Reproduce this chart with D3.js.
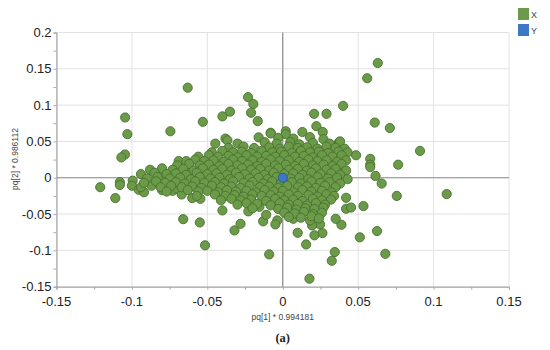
<!DOCTYPE html>
<html>
<head>
  <meta charset="utf-8">
  <style>
    body { margin: 0; background: #fff; }
    text { font-family: "Liberation Sans", Arial, sans-serif; }
  </style>
</head>
<body>
  <script src="https://cdnjs.cloudflare.com/ajax/libs/d3/7.8.5/d3.min.js"></script>
  <script>
    // tick values
    const xTicks = [-0.15, -0.1, -0.05, 0, 0.05, 0.1, 0.15];
    const yTicks = [-0.15, -0.1, -0.05, 0, 0.05, 0.1, 0.15, 0.2];

    // series X : scattered points
    const xOuter = [
      [-0.063, 0.124], [-0.1045, 0.083], [-0.053, 0.077], [-0.103, 0.060], [-0.0745, 0.064],
      [-0.1046, 0.032], [-0.107, 0.028], [-0.069, 0.023], [-0.081, 0.004], [-0.0995, -0.004],
      [-0.108, -0.006], [-0.121, -0.013], [-0.108, -0.010], [-0.111, -0.028], [-0.100, -0.011],
      [-0.0955, -0.0165], [-0.092, -0.020], [-0.094, -0.013], [-0.087, -0.011], [-0.080, -0.017],
      [-0.077, -0.011], [-0.073, -0.018], [-0.070, -0.015], [-0.067, -0.023], [-0.065, -0.0105],
      [-0.060, -0.028], [-0.0546, -0.029], [-0.066, -0.057], [-0.055, -0.0615], [-0.0515, -0.093],
      [-0.062, 0.008], [-0.023, 0.111], [-0.0195, 0.1015], [-0.021, 0.0895], [-0.0166, 0.078],
      [-0.035, 0.091], [-0.040, 0.0845], [-0.016, 0.0556], [-0.038, 0.054], [-0.0367, 0.0515],
      [-0.0447, 0.047], [-0.008, 0.062], [0.0208, 0.088], [0.029, 0.088], [0.040, 0.099],
      [0.0223, 0.071], [0.0265, 0.063], [0.0373, 0.049], [0.040, 0.0285], [0.002, 0.064],
      [0.063, 0.158], [0.056, 0.137], [0.061, 0.076], [0.071, 0.0685], [0.091, 0.037],
      [0.0486, 0.031], [0.058, 0.026], [0.058, 0.018], [0.0765, 0.018], [0.0615, 0.0025],
      [0.038, 0.050], [0.0398, 0.028], [0.038, 0.014], [0.058, 0.0147], [0.0656, -0.008],
      [0.0756, -0.025], [0.1087, -0.0225], [0.042, -0.0276], [0.042, -0.0427], [0.0453, -0.041],
      [0.0535, -0.039], [0.0389, -0.0647], [0.0625, -0.0734], [0.0511, -0.082], [0.068, -0.1047],
      [-0.040, -0.045], [-0.0228, -0.0463], [-0.032, -0.0725], [-0.028, -0.0634], [-0.013, -0.060],
      [-0.0036, -0.0587], [-0.0049, -0.0642], [-0.011, -0.051], [-0.0155, -0.040], [-0.009, -0.1055],
      [0.0099, -0.0758], [0.0155, -0.0918], [0.0177, -0.139], [0.0345, -0.1023], [0.0325, -0.1143],
      [0.0351, -0.0565], [0.0263, -0.0762], [0.021, -0.0793], [0.0247, -0.0642], [0.0194, -0.0656],
      [0.007, -0.0565], [0.0181, -0.0587]
    ];

    // series X : dense central cloud
    const xCore = [
      [-0.008, 0.061], [0.002, 0.060], [0.013, 0.063],
      [-0.003, 0.055], [0.007, 0.054], [0.018, 0.056], [0.027, 0.053],
      [-0.030, 0.047], [-0.012, 0.049], [-0.004, 0.047], [0.005, 0.049], [0.011, 0.046], [0.020, 0.048], [0.031, 0.047],
      [-0.036, 0.041], [-0.026, 0.043], [-0.019, 0.041], [-0.009, 0.042], [-0.002, 0.040], [0.004, 0.043], [0.010, 0.041],
      [0.016, 0.042], [0.023, 0.040], [0.029, 0.043], [0.035, 0.041], [0.041, 0.040],
      [-0.047, 0.035], [-0.040, 0.037], [-0.033, 0.035], [-0.027, 0.036], [-0.021, 0.034], [-0.014, 0.037], [-0.007, 0.035],
      [-0.001, 0.036], [0.006, 0.034], [0.012, 0.037], [0.018, 0.035], [0.024, 0.036], [0.030, 0.034], [0.037, 0.036], [0.043, 0.035],
      [-0.056, 0.029], [-0.049, 0.031], [-0.043, 0.029], [-0.036, 0.030], [-0.030, 0.028], [-0.024, 0.031], [-0.017, 0.029],
      [-0.011, 0.030], [-0.005, 0.029], [0.001, 0.031], [0.008, 0.029], [0.014, 0.030], [0.020, 0.028], [0.026, 0.031],
      [0.033, 0.029], [0.039, 0.031],
      [-0.064, 0.023], [-0.058, 0.025], [-0.052, 0.023], [-0.046, 0.024], [-0.039, 0.022], [-0.033, 0.025], [-0.027, 0.023],
      [-0.020, 0.024], [-0.014, 0.022], [-0.008, 0.025], [-0.002, 0.023], [0.004, 0.024], [0.011, 0.022], [0.017, 0.025],
      [0.023, 0.023], [0.029, 0.024], [0.036, 0.022], [0.042, 0.024],
      [-0.070, 0.017], [-0.062, 0.019], [-0.055, 0.017], [-0.049, 0.018], [-0.042, 0.016], [-0.036, 0.019], [-0.030, 0.017],
      [-0.023, 0.018], [-0.017, 0.016], [-0.011, 0.019], [-0.005, 0.017], [0.002, 0.018], [0.008, 0.016], [0.014, 0.019],
      [0.020, 0.017], [0.027, 0.018], [0.033, 0.016], [0.039, 0.019],
      [-0.088, 0.011], [-0.080, 0.013], [-0.073, 0.011], [-0.066, 0.012], [-0.059, 0.010], [-0.053, 0.013], [-0.046, 0.011],
      [-0.040, 0.012], [-0.034, 0.010], [-0.027, 0.013], [-0.021, 0.011], [-0.015, 0.012], [-0.009, 0.010], [-0.003, 0.013],
      [0.004, 0.011], [0.010, 0.012], [0.016, 0.010], [0.022, 0.013], [0.029, 0.011], [0.035, 0.012], [0.042, 0.010],
      [-0.094, 0.005], [-0.085, 0.007], [-0.077, 0.005], [-0.071, 0.006], [-0.064, 0.004], [-0.057, 0.007], [-0.050, 0.005],
      [-0.044, 0.006], [-0.037, 0.004], [-0.031, 0.007], [-0.025, 0.005], [-0.018, 0.006], [-0.012, 0.004], [-0.006, 0.007],
      [0.001, 0.005], [0.007, 0.006], [0.013, 0.004], [0.019, 0.007], [0.025, 0.005], [0.032, 0.006], [0.038, 0.004],
      [-0.090, -0.001], [-0.083, 0.001], [-0.075, -0.001], [-0.068, 0.000], [-0.061, -0.002], [-0.055, 0.001], [-0.048, -0.001],
      [-0.042, 0.000], [-0.035, -0.002], [-0.029, 0.001], [-0.022, -0.001], [-0.016, 0.000], [-0.010, -0.002], [-0.004, 0.001],
      [0.005, -0.001], [0.011, 0.000], [0.017, -0.002], [0.023, 0.001], [0.030, -0.001], [0.036, 0.000], [0.043, -0.002],
      [-0.092, -0.007], [-0.084, -0.005], [-0.078, -0.007], [-0.071, -0.006], [-0.065, -0.008], [-0.058, -0.005], [-0.052, -0.007],
      [-0.045, -0.006], [-0.039, -0.008], [-0.033, -0.005], [-0.026, -0.007], [-0.020, -0.006], [-0.013, -0.008], [-0.007, -0.005],
      [-0.001, -0.007], [0.006, -0.006], [0.012, -0.008], [0.019, -0.005], [0.025, -0.007], [0.031, -0.006], [0.038, -0.008],
      [-0.081, -0.013], [-0.074, -0.011], [-0.067, -0.013], [-0.060, -0.012], [-0.054, -0.014], [-0.047, -0.011], [-0.041, -0.013],
      [-0.034, -0.012], [-0.028, -0.014], [-0.022, -0.011], [-0.015, -0.013], [-0.009, -0.012], [-0.003, -0.014], [0.003, -0.011],
      [0.010, -0.013], [0.016, -0.012], [0.022, -0.014], [0.028, -0.011], [0.035, -0.013],
      [-0.077, -0.019], [-0.063, -0.017], [-0.056, -0.019], [-0.050, -0.018], [-0.043, -0.020], [-0.037, -0.017], [-0.031, -0.019],
      [-0.024, -0.018], [-0.018, -0.020], [-0.012, -0.017], [-0.006, -0.019], [0.000, -0.018], [0.007, -0.020], [0.013, -0.017],
      [0.019, -0.019], [0.026, -0.018], [0.032, -0.020],
      [-0.057, -0.025], [-0.045, -0.023], [-0.038, -0.025], [-0.032, -0.024], [-0.026, -0.026], [-0.020, -0.023], [-0.014, -0.025],
      [-0.008, -0.024], [-0.002, -0.026], [0.004, -0.023], [0.010, -0.025], [0.017, -0.024], [0.023, -0.026], [0.029, -0.023],
      [0.034, -0.025],
      [-0.041, -0.031], [-0.034, -0.029], [-0.028, -0.031], [-0.021, -0.030], [-0.011, -0.032], [-0.005, -0.029], [0.001, -0.031],
      [0.007, -0.030], [0.013, -0.032], [0.020, -0.029], [0.026, -0.031], [0.032, -0.030],
      [-0.030, -0.037], [-0.024, -0.035], [-0.017, -0.036], [-0.008, -0.038], [-0.002, -0.035], [0.004, -0.037], [0.010, -0.036],
      [0.016, -0.038], [0.022, -0.035], [0.028, -0.037],
      [-0.020, -0.042], [-0.003, -0.043], [0.003, -0.041], [0.009, -0.044], [0.015, -0.042], [0.021, -0.043], [0.027, -0.041],
      [0.001, -0.048], [0.008, -0.049], [0.014, -0.047], [0.020, -0.050], [0.026, -0.048],
      [0.004, -0.054], [0.012, -0.055], [0.019, -0.053], [0.024, -0.056]
    ];

    // series Y : single point
    const yPoints = [[0.0, 0.0]];

    const legendLabels = ["X", "Y"];
    const legendColors = ["#6b9b48", "#3c78c3"];

    const width = 550, height = 350;
    const svg = d3.select("body").append("svg")
      .attr("width", width)
      .attr("height", height);

    const x = d3.scaleLinear().domain([-0.15, 0.15]).range([56.5, 509]);
    const y = d3.scaleLinear().domain([-0.15, 0.2]).range([286.7, 32.5]);

    // grid
    svg.append("g").selectAll("line")
      .data(xTicks)
      .enter().append("line")
      .attr("x1", d => x(d)).attr("x2", d => x(d))
      .attr("y1", y(0.2)).attr("y2", y(-0.15))
      .attr("stroke", "#e2e2e2").attr("stroke-width", 1);
    svg.append("g").selectAll("line")
      .data(yTicks)
      .enter().append("line")
      .attr("x1", x(-0.15)).attr("x2", x(0.15))
      .attr("y1", d => y(d)).attr("y2", d => y(d))
      .attr("stroke", "#e2e2e2").attr("stroke-width", 1);

    // zero lines
    svg.append("line")
      .attr("x1", x(0)).attr("x2", x(0))
      .attr("y1", y(0.2)).attr("y2", y(-0.15))
      .attr("stroke", "#8c8c8c").attr("stroke-width", 1.2);
    svg.append("line")
      .attr("x1", x(-0.15)).attr("x2", x(0.15))
      .attr("y1", y(0)).attr("y2", y(0))
      .attr("stroke", "#8c8c8c").attr("stroke-width", 1.2);

    // axes
    const xAxis = d3.axisBottom(x)
      .tickValues(d3.range(-0.15, 0.1501, 0.025))
      .tickSize(3)
      .tickFormat(() => "");
    svg.append("g")
      .attr("transform", "translate(0," + y(-0.15) + ")")
      .call(xAxis)
      .call(g => g.select(".domain").attr("stroke", "#999"))
      .call(g => g.selectAll(".tick line").attr("stroke", "#aaa"));

    const yAxis = d3.axisLeft(y)
      .tickValues(d3.range(-0.15, 0.2001, 0.025))
      .tickSize(3)
      .tickFormat(() => "");
    svg.append("g")
      .attr("transform", "translate(" + x(-0.15) + ",0)")
      .call(yAxis)
      .call(g => g.select(".domain").attr("stroke", "#999"))
      .call(g => g.selectAll(".tick line").attr("stroke", "#aaa"));

    // tick labels
    svg.append("g").selectAll("text")
      .data(xTicks)
      .enter().append("text")
      .attr("x", d => x(d))
      .attr("y", 306)
      .attr("text-anchor", "middle")
      .style("font-size", "13px")
      .style("fill", "#222")
      .text(d => d);
    svg.append("g").selectAll("text")
      .data(yTicks)
      .enter().append("text")
      .attr("x", 51.5)
      .attr("y", d => y(d) + 4.5)
      .attr("text-anchor", "end")
      .style("font-size", "13px")
      .style("fill", "#222")
      .text(d => d);

    // points
    const pts = svg.append("g");
    pts.selectAll("circle.xs")
      .data(xOuter.concat(xCore))
      .enter().append("circle")
      .attr("class", "xs")
      .attr("cx", d => x(d[0]))
      .attr("cy", d => y(d[1]))
      .attr("r", 4.6)
      .attr("fill", legendColors[0])
      .attr("stroke", "#4a7030")
      .attr("stroke-width", 0.9);
    pts.selectAll("circle.ys")
      .data(yPoints)
      .enter().append("circle")
      .attr("class", "ys")
      .attr("cx", d => x(d[0]))
      .attr("cy", d => y(d[1]))
      .attr("r", 4.6)
      .attr("fill", legendColors[1])
      .attr("stroke", "#2a5690")
      .attr("stroke-width", 0.9);

    // axis titles
    svg.append("text")
      .attr("x", x(0))
      .attr("y", 320)
      .attr("text-anchor", "middle")
      .style("font-size", "8.5px")
      .style("fill", "#444")
      .text("pq[1] * 0.994181");
    svg.append("text")
      .attr("transform", "translate(18,159) rotate(-90)")
      .attr("text-anchor", "middle")
      .style("font-size", "8.5px")
      .style("fill", "#444")
      .text("pq[2] * 0.986112");

    svg.append("text")
      .attr("x", x(0))
      .attr("y", 342)
      .attr("text-anchor", "middle")
      .style("font-family", "'Liberation Serif', serif")
      .style("font-weight", "bold")
      .style("font-size", "12.5px")
      .style("fill", "#222")
      .text("(a)");

    // legend
    const legend = svg.append("g").selectAll("g")
      .data(legendLabels)
      .enter().append("g")
      .attr("transform", (d, i) => "translate(518," + (8 + i * 16) + ")");
    legend.append("rect")
      .attr("width", 11).attr("height", 12)
      .attr("fill", (d, i) => legendColors[i]);
    legend.append("text")
      .attr("x", 13).attr("y", 10)
      .style("font-size", "9px")
      .style("fill", "#444")
      .text(d => d);
  </script>
</body>
</html>
